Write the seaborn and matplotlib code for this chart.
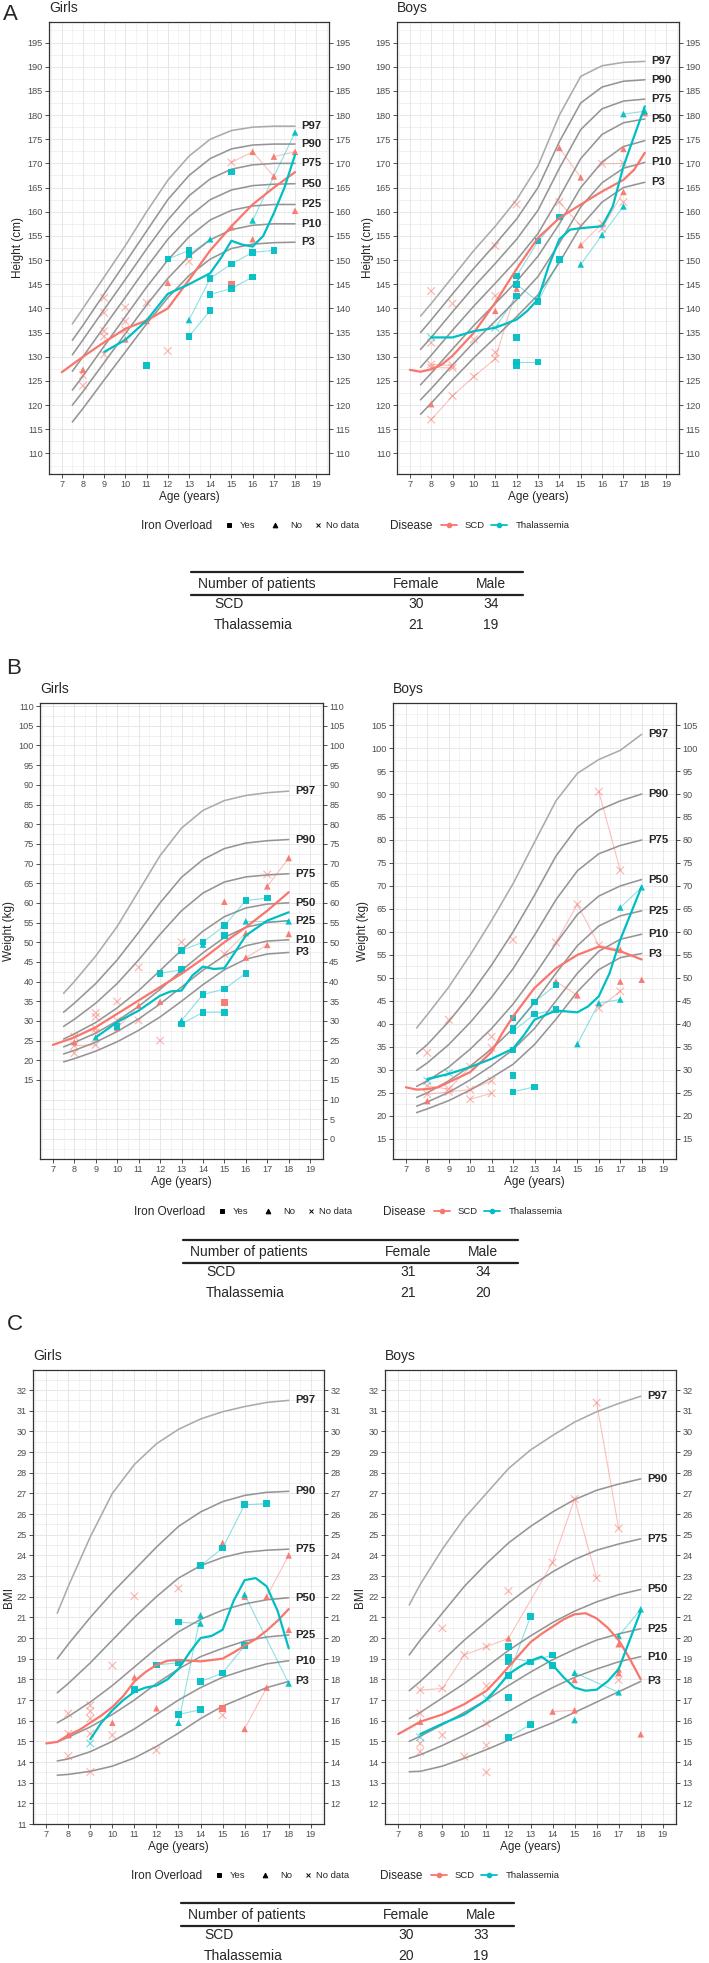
import numpy as np
import pandas as pd
import matplotlib
matplotlib.use("Agg")
import matplotlib.pyplot as plt
import seaborn as sns
from matplotlib.lines import Line2D

sns.set_theme(style="white")
plt.rcParams['font.family'] = ['Liberation Sans', 'DejaVu Sans']

W, H = 709, 1963
SCD_C = "#F8766D"
THAL_C = "#00BFC4"
PAL = {"SCD": SCD_C, "Thalassemia": THAL_C}

X_TICKS = list(range(7, 20))
AGES_PCT = [7.5, 8, 9, 10, 11, 12, 13, 14, 15, 16, 17, 18]
PCT_LABELS = ["P97", "P90", "P75", "P50", "P25", "P10", "P3"]
PCT_COLORS = ["#ABABAB", "#959595", "#959595", "#959595", "#959595", "#959595", "#959595"]

# ---------------- Percentile reference curves ----------------
girls_height_pct = [
    [136.8, 140.0, 146.5, 153.0, 160.0, 166.5, 171.5, 175.0, 176.8, 177.5, 177.7, 177.7],
    [133.4, 136.5, 143.0, 149.5, 156.0, 162.5, 167.5, 171.0, 173.0, 173.8, 174.0, 174.0],
    [130.4, 133.5, 139.8, 146.0, 152.3, 158.3, 163.3, 166.8, 168.8, 169.7, 170.0, 170.0],
    [127.0, 130.0, 136.2, 142.3, 148.5, 154.3, 159.0, 162.5, 164.5, 165.4, 165.7, 165.8],
    [123.1, 126.0, 132.2, 138.3, 144.4, 150.0, 154.8, 158.3, 160.3, 161.2, 161.5, 161.5],
    [120.0, 122.8, 128.8, 134.8, 140.7, 146.2, 150.8, 154.2, 156.3, 157.2, 157.5, 157.5],
    [116.5, 119.3, 125.2, 131.0, 136.8, 142.2, 146.8, 150.2, 152.4, 153.3, 153.6, 153.7],
]
boys_height_pct = [
    [138.4, 141.0, 146.5, 152.0, 157.0, 162.5, 169.5, 180.0, 188.0, 190.2, 190.9, 191.1],
    [135.0, 137.6, 143.0, 148.3, 153.3, 158.5, 165.0, 174.5, 182.5, 185.8, 187.0, 187.3],
    [131.5, 134.0, 139.3, 144.5, 149.3, 154.3, 160.3, 169.0, 177.0, 181.3, 182.9, 183.3],
    [127.8, 130.3, 135.5, 140.5, 145.2, 150.0, 155.5, 163.0, 171.0, 176.0, 178.4, 179.2],
    [124.2, 126.6, 131.6, 136.5, 141.0, 145.6, 150.8, 157.5, 165.0, 170.3, 173.5, 174.7],
    [121.1, 123.4, 128.3, 133.0, 137.4, 141.8, 146.6, 153.5, 161.0, 166.0, 169.0, 170.2],
    [118.1, 120.4, 125.2, 129.8, 134.0, 138.3, 142.8, 149.5, 157.0, 162.0, 165.0, 166.1],
]
girls_weight_pct = [
    [37.0, 40.0, 46.5, 54.0, 63.0, 72.0, 79.0, 83.5, 86.0, 87.3, 88.0, 88.4],
    [32.2, 34.5, 39.5, 45.5, 52.5, 60.0, 66.5, 71.0, 73.8, 75.2, 75.8, 76.1],
    [28.6, 30.4, 34.5, 39.5, 45.5, 52.0, 58.0, 62.5, 65.3, 66.6, 67.1, 67.4],
    [25.4, 26.7, 29.6, 33.3, 37.7, 42.8, 48.0, 52.8, 56.5, 58.7, 59.7, 60.0],
    [23.4, 24.5, 26.9, 30.0, 33.7, 38.0, 42.8, 47.3, 51.2, 53.8, 55.0, 55.5],
    [21.6, 22.5, 24.6, 27.3, 30.5, 34.3, 38.6, 42.9, 46.6, 49.1, 50.3, 50.6],
    [19.6, 20.4, 22.3, 24.7, 27.6, 31.0, 35.0, 39.2, 43.0, 45.7, 47.0, 47.4],
]
boys_weight_pct = [
    [39.1, 42.0, 48.0, 55.0, 62.5, 70.5, 79.5, 88.5, 94.5, 97.5, 99.5, 103.0],
    [33.5, 35.5, 40.5, 46.3, 52.8, 60.0, 68.0, 76.5, 82.8, 86.5, 88.5, 90.0],
    [29.9, 31.5, 35.5, 40.3, 45.8, 52.0, 59.3, 67.0, 73.3, 77.0, 78.8, 80.0],
    [26.4, 27.6, 30.6, 34.5, 39.0, 44.3, 50.6, 57.5, 63.8, 67.8, 70.0, 71.4],
    [24.0, 25.0, 27.6, 30.8, 34.5, 39.0, 44.6, 51.0, 57.0, 61.3, 63.5, 64.6],
    [22.1, 23.0, 25.1, 27.8, 30.9, 34.4, 39.0, 45.0, 51.0, 55.8, 58.4, 59.5],
    [20.7, 21.5, 23.3, 25.6, 28.3, 31.2, 35.5, 41.0, 47.0, 51.8, 54.4, 55.3],
]
girls_bmi_pct = [
    [21.2, 22.5, 24.9, 27.0, 28.4, 29.4, 30.1, 30.6, 30.95, 31.2, 31.4, 31.5],
    [19.0, 19.7, 21.0, 22.2, 23.3, 24.4, 25.4, 26.1, 26.6, 26.9, 27.05, 27.1],
    [17.35, 17.8, 18.8, 19.9, 21.0, 22.0, 22.9, 23.5, 23.9, 24.15, 24.25, 24.3],
    [15.9, 16.2, 16.9, 17.7, 18.6, 19.5, 20.3, 20.9, 21.35, 21.65, 21.85, 21.95],
    [14.97, 15.2, 15.7, 16.3, 17.0, 17.8, 18.5, 19.1, 19.5, 19.85, 20.05, 20.15],
    [14.05, 14.15, 14.5, 15.0, 15.6, 16.3, 17.0, 17.6, 18.1, 18.45, 18.75, 18.9],
    [13.36, 13.4, 13.55, 13.8, 14.2, 14.75, 15.4, 16.1, 16.7, 17.15, 17.6, 17.9],
]
boys_bmi_pct = [
    [21.6, 22.6, 24.3, 25.8, 27.0, 28.2, 29.1, 29.8, 30.45, 30.95, 31.35, 31.7],
    [19.18, 19.9, 21.2, 22.5, 23.6, 24.6, 25.4, 26.1, 26.7, 27.15, 27.45, 27.7],
    [17.45, 17.9, 18.9, 19.9, 20.8, 21.7, 22.5, 23.2, 23.8, 24.25, 24.55, 24.8],
    [16.1, 16.4, 17.1, 17.8, 18.6, 19.4, 20.1, 20.75, 21.3, 21.75, 22.1, 22.35],
    [15.0, 15.25, 15.8, 16.4, 17.0, 17.7, 18.35, 18.95, 19.45, 19.9, 20.2, 20.45],
    [14.18, 14.35, 14.8, 15.3, 15.85, 16.45, 17.05, 17.6, 18.1, 18.5, 18.85, 19.1],
    [13.53, 13.55, 13.8, 14.18, 14.6, 15.05, 15.47, 15.9, 16.4, 16.9, 17.4, 17.9],
]

# ---------------- Patient observations: (age, value, disease, iron overload, patient) ----------------
# disease: S = SCD, T = Thalassemia ; iron: Y = Yes, N = No, X = No data
girls_height_obs = [
    (8, 127.3, 'S', 'N', 1), (8, 126.2, 'S', 'X', 2), (8, 124.0, 'S', 'X', 3),
    (9, 142.2, 'S', 'X', 4), (9, 139.1, 'S', 'X', 5), (9, 135.3, 'S', 'X', 6), (9, 134.2, 'S', 'X', 7), (9, 130.5, 'S', 'X', 8),
    (10, 140.2, 'S', 'X', 9), (10, 137.3, 'S', 'X', 10), (10, 135.5, 'S', 'X', 11), (10, 133.6, 'S', 'N', 12),
    (11, 141.2, 'S', 'X', 13), (11, 137.4, 'S', 'N', 14),
    (12, 131.2, 'S', 'X', 15), (12, 145.3, 'S', 'N', 16), (13, 149.7, 'S', 'X', 17),
    (15, 170.2, 'S', 'X', 18), (16, 172.4, 'S', 'N', 18), (17, 167.3, 'S', 'N', 18),
    (15, 156.8, 'S', 'N', 19), (15, 145.0, 'S', 'Y', 20), (16, 154.3, 'S', 'N', 21),
    (17, 171.4, 'S', 'N', 22), (18, 172.4, 'S', 'N', 22), (18, 160.2, 'S', 'N', 23),
    (11, 128.2, 'T', 'Y', 30),
    (12, 150.2, 'T', 'Y', 31), (13, 152.0, 'T', 'Y', 31),
    (13, 151.2, 'T', 'Y', 32), (14, 154.3, 'T', 'N', 32),
    (13, 137.6, 'T', 'N', 33), (14, 146.2, 'T', 'Y', 33), (15, 149.2, 'T', 'Y', 33), (16, 151.6, 'T', 'Y', 33), (17, 152.0, 'T', 'Y', 33),
    (13, 134.2, 'T', 'Y', 34), (14, 139.6, 'T', 'Y', 34),
    (14, 142.9, 'T', 'Y', 35), (15, 144.1, 'T', 'Y', 35), (16, 146.5, 'T', 'Y', 35),
    (15, 168.2, 'T', 'Y', 36),
    (16, 158.2, 'T', 'N', 37), (18, 176.4, 'T', 'N', 37),
]
boys_height_obs = [
    (8, 143.6, 'S', 'X', 1), (8, 132.9, 'S', 'X', 2), (8, 128.4, 'S', 'X', 3), (8, 127.8, 'S', 'X', 4),
    (8, 120.2, 'S', 'N', 5), (8, 117.0, 'S', 'X', 6),
    (9, 141.0, 'S', 'X', 7), (9, 128.2, 'S', 'X', 3), (9, 127.7, 'S', 'X', 4), (9, 121.9, 'S', 'X', 6),
    (10, 133.6, 'S', 'X', 8), (10, 125.9, 'S', 'X', 6),
    (11, 152.9, 'S', 'X', 9), (11, 142.6, 'S', 'X', 10), (11, 139.5, 'S', 'N', 11), (11, 130.9, 'S', 'X', 12),
    (11, 129.6, 'S', 'X', 6), (12, 144.1, 'S', 'N', 6),
    (12, 161.5, 'S', 'X', 13),
    (14, 173.2, 'S', 'N', 14), (15, 167.1, 'S', 'N', 14),
    (14, 162.0, 'S', 'X', 15), (15, 157.1, 'S', 'X', 15),
    (15, 153.1, 'S', 'N', 17), (16, 157.6, 'S', 'X', 17),
    (16, 169.9, 'S', 'X', 18), (17, 170.0, 'S', 'X', 18),
    (16, 156.5, 'S', 'X', 19), (17, 164.1, 'S', 'N', 19),
    (17, 173.0, 'S', 'N', 20), (17, 162.0, 'S', 'X', 21), (18, 180.4, 'S', 'N', 22),
    (8, 134.0, 'T', 'X', 30),
    (11, 136.0, 'T', 'X', 31), (12, 142.6, 'T', 'Y', 31),
    (12, 146.7, 'T', 'Y', 32), (13, 153.9, 'T', 'Y', 32), (14, 158.9, 'T', 'Y', 32),
    (12, 145.0, 'T', 'Y', 33), (13, 141.4, 'T', 'Y', 33), (14, 150.1, 'T', 'Y', 33),
    (12, 134.0, 'T', 'Y', 34),
    (12, 128.9, 'T', 'Y', 35), (13, 128.9, 'T', 'Y', 35), (12, 128.2, 'T', 'Y', 36),
    (15, 149.1, 'T', 'N', 37), (16, 155.2, 'T', 'N', 37), (17, 161.1, 'T', 'N', 37),
    (17, 180.2, 'T', 'N', 38), (18, 180.8, 'T', 'N', 38),
]
girls_weight_obs = [
    (8, 24.6, 'S', 'N', 1), (8, 26.0, 'S', 'X', 2), (8, 23.7, 'S', 'X', 3), (8, 21.8, 'S', 'X', 4),
    (9, 32.0, 'S', 'X', 5), (9, 31.0, 'S', 'X', 6), (9, 28.0, 'S', 'X', 2), (9, 27.1, 'S', 'X', 7), (9, 23.9, 'S', 'X', 3),
    (10, 34.9, 'S', 'X', 8), (10, 30.1, 'S', 'X', 9), (10, 28.2, 'S', 'N', 10),
    (11, 43.6, 'S', 'X', 11), (11, 33.9, 'S', 'N', 10), (11, 30.1, 'S', 'X', 12),
    (12, 25.0, 'S', 'X', 13), (12, 34.9, 'S', 'N', 14), (13, 50.0, 'S', 'X', 15),
    (15, 60.3, 'S', 'N', 16), (15, 34.7, 'S', 'Y', 17),
    (15, 47.0, 'S', 'X', 18), (16, 52.3, 'S', 'N', 18),
    (16, 46.1, 'S', 'N', 19), (17, 49.3, 'S', 'N', 19),
    (17, 67.2, 'S', 'X', 20), (17, 64.2, 'S', 'N', 21), (18, 71.4, 'S', 'N', 21), (18, 52.1, 'S', 'N', 22),
    (9, 25.8, 'T', 'N', 30), (10, 28.6, 'T', 'Y', 31),
    (12, 42.1, 'T', 'Y', 32), (13, 43.0, 'T', 'Y', 32),
    (13, 47.9, 'T', 'Y', 33), (14, 50.0, 'T', 'Y', 33), (15, 54.2, 'T', 'Y', 33), (16, 60.6, 'T', 'Y', 33), (17, 61.2, 'T', 'Y', 33),
    (14, 49.4, 'T', 'N', 34),
    (13, 30.1, 'T', 'N', 35), (14, 36.7, 'T', 'Y', 35), (15, 38.1, 'T', 'Y', 35), (16, 42.1, 'T', 'Y', 35),
    (13, 29.2, 'T', 'Y', 36), (14, 32.2, 'T', 'Y', 36), (15, 32.2, 'T', 'Y', 36),
    (15, 51.7, 'T', 'Y', 38),
    (16, 55.3, 'T', 'N', 39), (18, 55.3, 'T', 'N', 39),
]
boys_weight_obs = [
    (8, 33.7, 'S', 'X', 1), (8, 26.5, 'S', 'X', 2), (8, 24.7, 'S', 'X', 3), (8, 23.2, 'S', 'N', 4),
    (9, 40.9, 'S', 'X', 5), (9, 25.8, 'S', 'X', 2), (9, 25.2, 'S', 'X', 3),
    (10, 30.7, 'S', 'X', 2), (10, 25.7, 'S', 'X', 3), (10, 23.6, 'S', 'X', 6),
    (11, 37.2, 'S', 'X', 7), (11, 34.8, 'S', 'X', 2), (11, 27.6, 'S', 'X', 3), (11, 24.9, 'S', 'X', 6),
    (12, 58.3, 'S', 'X', 8), (12, 41.3, 'S', 'N', 9),
    (14, 57.7, 'S', 'X', 10), (15, 66.0, 'S', 'X', 10), (16, 57.1, 'S', 'X', 10), (17, 56.1, 'S', 'N', 10),
    (14, 49.2, 'S', 'N', 11), (15, 46.2, 'S', 'N', 11),
    (16, 90.5, 'S', 'X', 12), (17, 73.4, 'S', 'X', 12),
    (16, 43.4, 'S', 'X', 13), (17, 47.1, 'S', 'X', 13),
    (17, 49.2, 'S', 'N', 14), (18, 49.6, 'S', 'N', 15),
    (8, 27.6, 'T', 'X', 30), (9, 29.3, 'T', 'X', 30),
    (12, 41.3, 'T', 'Y', 31),
    (12, 39.1, 'T', 'Y', 32), (13, 44.8, 'T', 'Y', 32), (14, 48.4, 'T', 'Y', 32),
    (12, 38.4, 'T', 'Y', 33), (13, 42.1, 'T', 'Y', 33), (14, 43.1, 'T', 'Y', 33),
    (12, 34.3, 'T', 'Y', 34), (12, 28.8, 'T', 'Y', 35),
    (12, 25.2, 'T', 'Y', 36), (13, 26.3, 'T', 'Y', 36),
    (15, 35.6, 'T', 'N', 37), (16, 44.5, 'T', 'N', 37), (17, 45.3, 'T', 'N', 37),
    (17, 65.3, 'T', 'N', 39), (18, 69.7, 'T', 'N', 39),
]
girls_bmi_obs = [
    (8, 16.34, 'S', 'X', 1), (8, 15.37, 'S', 'X', 2), (8, 15.3, 'S', 'N', 3), (8, 14.28, 'S', 'X', 4),
    (9, 16.74, 'S', 'X', 5), (9, 16.45, 'S', 'X', 6), (9, 16.1, 'S', 'X', 7), (9, 15.37, 'S', 'X', 8), (9, 13.52, 'S', 'X', 9),
    (10, 18.67, 'S', 'X', 10), (10, 15.9, 'S', 'N', 11), (10, 15.3, 'S', 'X', 12),
    (11, 22.02, 'S', 'X', 13), (11, 18.1, 'S', 'N', 14),
    (12, 16.6, 'S', 'N', 15), (12, 14.57, 'S', 'X', 16), (13, 22.4, 'S', 'X', 17),
    (15, 16.6, 'S', 'Y', 18), (15, 16.26, 'S', 'X', 19), (15, 24.6, 'S', 'N', 20),
    (16, 15.6, 'S', 'N', 21), (17, 17.6, 'S', 'N', 21),
    (16, 22.0, 'S', 'N', 22),
    (17, 22.0, 'S', 'N', 23), (18, 24.0, 'S', 'N', 23), (18, 20.4, 'S', 'N', 24),
    (9, 14.9, 'T', 'X', 30), (11, 17.5, 'T', 'Y', 31),
    (12, 18.7, 'T', 'Y', 32), (13, 18.8, 'T', 'Y', 32),
    (13, 20.77, 'T', 'Y', 33), (14, 20.7, 'T', 'N', 33),
    (13, 15.9, 'T', 'N', 34), (14, 21.1, 'T', 'N', 34),
    (13, 16.3, 'T', 'Y', 35), (14, 16.53, 'T', 'Y', 35),
    (14, 17.9, 'T', 'Y', 36), (15, 18.3, 'T', 'Y', 36), (16, 19.63, 'T', 'Y', 36),
    (14, 23.5, 'T', 'Y', 37), (15, 24.35, 'T', 'Y', 37), (16, 26.45, 'T', 'Y', 37), (17, 26.5, 'T', 'Y', 37),
    (16, 22.1, 'T', 'N', 38), (18, 17.8, 'T', 'N', 38),
]
boys_bmi_obs = [
    (8, 17.48, 'S', 'X', 1), (9, 17.56, 'S', 'X', 1), (10, 19.18, 'S', 'X', 1), (11, 19.58, 'S', 'X', 1),
    (12, 19.98, 'S', 'N', 1), (14, 23.65, 'S', 'X', 1), (15, 26.73, 'S', 'X', 1), (16, 22.9, 'S', 'X', 1),
    (8, 16.35, 'S', 'X', 2), (8, 15.95, 'S', 'N', 3), (8, 14.9, 'S', 'X', 4), (8, 14.5, 'S', 'X', 5),
    (9, 20.47, 'S', 'X', 6), (9, 15.3, 'S', 'X', 7), (10, 14.26, 'S', 'X', 8),
    (11, 17.68, 'S', 'X', 9), (11, 15.87, 'S', 'X', 10), (11, 14.8, 'S', 'X', 11), (11, 13.5, 'S', 'X', 12),
    (12, 22.27, 'S', 'X', 13),
    (14, 16.44, 'S', 'N', 14), (15, 16.5, 'S', 'N', 14), (15, 17.97, 'S', 'N', 15),
    (16, 31.39, 'S', 'X', 16), (17, 25.3, 'S', 'X', 16),
    (17, 19.7, 'S', 'N', 17), (17, 18.48, 'S', 'N', 18), (17, 18.3, 'S', 'N', 19), (17, 17.97, 'S', 'X', 20),
    (18, 15.34, 'S', 'N', 21),
    (8, 15.2, 'T', 'X', 30),
    (11, 17.08, 'T', 'X', 31), (12, 18.18, 'T', 'Y', 31), (13, 21.03, 'T', 'Y', 31),
    (12, 19.58, 'T', 'Y', 32),
    (12, 19.06, 'T', 'Y', 33), (13, 18.85, 'T', 'Y', 33), (14, 19.18, 'T', 'Y', 33),
    (12, 18.85, 'T', 'Y', 34), (12, 17.12, 'T', 'Y', 35),
    (12, 15.18, 'T', 'Y', 36), (13, 15.82, 'T', 'Y', 36),
    (14, 18.66, 'T', 'Y', 37),
    (15, 18.32, 'T', 'N', 38), (17, 17.37, 'T', 'N', 38),
    (15, 16.03, 'T', 'N', 39),
    (17, 20.1, 'T', 'N', 40), (18, 21.39, 'T', 'N', 40),
]

# ---------------- Smoothed trends per disease ----------------
girls_height_scd_age = [7, 8, 9, 10, 11, 12, 13, 14, 15, 16, 17, 18]
girls_height_scd_val = [126.8, 130.0, 133.0, 135.8, 137.5, 140.0, 145.9, 152.0, 157.0, 161.5, 165.0, 168.2]
girls_height_thal_age = [9, 10, 11, 12, 13, 14, 14.5, 15, 15.5, 16, 16.5, 17, 17.5, 18]
girls_height_thal_val = [131.0, 133.5, 137.5, 143.0, 145.0, 147.3, 150.4, 154.0, 153.2, 152.8, 155.0, 159.7, 165.0, 171.8]
boys_height_scd_age = [7, 7.5, 8, 8.5, 9, 10, 11, 12, 13, 14, 15, 16, 17, 17.5, 18]
boys_height_scd_val = [127.3, 126.9, 127.4, 128.4, 130.2, 135.0, 141.2, 148.2, 154.6, 158.7, 161.5, 164.2, 166.6, 168.7, 172.2]
boys_height_thal_age = [8, 9, 10, 11, 12, 12.5, 13, 13.5, 14, 14.5, 15, 16, 16.5, 17, 17.5, 18]
boys_height_thal_val = [134.0, 134.0, 135.3, 136.0, 137.7, 139.5, 141.9, 148.8, 154.3, 156.3, 156.6, 157.0, 161.1, 169.4, 175.6, 181.8]
girls_weight_scd_age = [7, 8, 9, 10, 11, 12, 13, 14, 15, 16, 17, 18]
girls_weight_scd_val = [23.9, 25.8, 28.4, 31.8, 35.2, 38.6, 42.0, 45.8, 50.0, 53.8, 58.0, 62.7]
girls_weight_thal_age = [9, 10, 11, 12, 12.5, 13, 13.5, 14, 14.5, 15, 15.5, 16, 17, 18]
girls_weight_thal_val = [25.8, 29.7, 32.6, 36.4, 37.5, 37.7, 41.5, 43.8, 43.2, 43.4, 47.5, 51.7, 55.5, 57.6]
boys_weight_scd_age = [7, 7.5, 8, 8.5, 9, 10, 11, 11.5, 12, 13, 14, 15, 16, 17, 18]
boys_weight_scd_val = [26.2, 25.7, 25.8, 26.2, 27.3, 29.5, 33.9, 38.0, 41.6, 47.8, 52.1, 55.0, 56.8, 55.8, 54.0]
boys_weight_thal_age = [8, 9, 10, 11, 12, 12.5, 13, 14, 15, 15.5, 16, 16.5, 17, 18]
boys_weight_thal_val = [28.0, 29.1, 30.6, 32.4, 34.6, 37.5, 40.9, 42.9, 42.5, 43.8, 46.0, 51.0, 58.3, 69.9]
girls_bmi_scd_age = [7, 7.5, 8, 8.5, 9, 9.5, 10, 10.5, 11, 11.5, 12, 12.5, 13, 14, 15, 15.5, 16, 16.5, 17, 17.5, 18]
girls_bmi_scd_val = [14.9, 14.97, 15.3, 15.55, 15.9, 16.25, 16.66, 17.2, 17.9, 18.35, 18.7, 18.9, 18.94, 18.87, 19.0, 19.3, 19.63, 19.95, 20.36, 20.84, 21.4]
girls_bmi_thal_age = [9, 9.5, 10, 10.5, 11, 11.5, 12, 12.5, 13, 13.5, 14, 14.5, 15, 15.5, 16, 16.5, 17, 17.5, 18]
girls_bmi_thal_val = [15.1, 15.9, 16.5, 17.0, 17.4, 17.6, 17.7, 18.0, 18.5, 19.3, 20.0, 20.1, 20.4, 21.8, 22.8, 22.9, 22.5, 21.3, 19.5]
boys_bmi_scd_age = [7, 8, 9, 10, 11, 11.5, 12, 12.5, 13, 13.5, 14, 14.5, 15, 15.5, 16, 16.5, 17, 17.5, 18]
boys_bmi_scd_val = [15.35, 15.95, 16.3, 16.8, 17.45, 18.0, 18.6, 19.2, 19.8, 20.2, 20.55, 20.9, 21.15, 21.2, 20.95, 20.5, 19.9, 19.0, 18.0]
boys_bmi_thal_age = [8, 9, 10, 11, 11.5, 12, 12.5, 13, 13.5, 14, 14.5, 15, 15.5, 16, 16.5, 17, 17.5, 18]
boys_bmi_thal_val = [15.35, 15.85, 16.3, 17.0, 17.6, 18.25, 18.6, 18.9, 19.1, 18.7, 18.1, 17.6, 17.45, 17.5, 17.9, 18.5, 19.9, 21.3]

# ---------------- Patient counts tables ----------------
table_rows = ["SCD", "Thalassemia"]
height_counts = [(30, 34), (21, 19)]
weight_counts = [(31, 34), (21, 20)]
bmi_counts = [(30, 33), (20, 19)]

DIS_NAME = {'S': 'SCD', 'T': 'Thalassemia'}

fig = plt.figure(figsize=(W / 100, H / 100), dpi=100)
fig.patch.set_facecolor('white')


def fx(x):
    return x / W


def fy(y):
    return 1 - y / H


def panel(box, pct, obs, scd, thal, ylim, grid_vals, lticks, rticks, ylab, ylab_x, title):
    x0, x1, y0, y1 = box
    ax = fig.add_axes([fx(x0), fy(y1), (x1 - x0) / W, (y1 - y0) / H])
    ax.set_xlim(6.4, 19.6)
    ax.set_ylim(*ylim)
    step = grid_vals[1] - grid_vals[0]
    for v in grid_vals:
        ax.axhline(v, color='#E3E3E3', lw=0.6, zorder=0)
        ax.axhline(v + step / 2, color='#EFEFEF', lw=0.5, zorder=0)
        ax.axhline(v - step / 2, color='#EFEFEF', lw=0.5, zorder=0)
    for v in X_TICKS:
        ax.axvline(v, color='#E3E3E3', lw=0.6, zorder=0)
        ax.axvline(v - 0.5, color='#EFEFEF', lw=0.5, zorder=0)
    ax.axvline(19.5, color='#EFEFEF', lw=0.5, zorder=0)

    for vals, lab, col in zip(pct, PCT_LABELS, PCT_COLORS):
        sns.lineplot(x=AGES_PCT, y=vals, ax=ax, color=col, lw=1.15, zorder=2)
        ax.text(18.3, vals[-1], lab, fontsize=8.2, fontweight='bold', va='center', ha='left', zorder=6)

    df = pd.DataFrame(obs, columns=['age', 'val', 'dis', 'iron', 'pid'])
    df['dis'] = df['dis'].map(DIS_NAME)
    sns.lineplot(data=df, x='age', y='val', hue='dis', units='pid', estimator=None,
                 palette=PAL, lw=0.8, alpha=0.45, legend=False, ax=ax, zorder=3, sort=True)
    filled = df[df['iron'] != 'X']
    sns.scatterplot(data=filled, x='age', y='val', hue='dis', style='iron',
                    markers={'Y': 's', 'N': '^'}, palette=PAL, s=22, linewidth=0,
                    alpha=0.95, legend=False, ax=ax, zorder=4)
    cross = df[df['iron'] == 'X']
    sns.scatterplot(data=cross, x='age', y='val', hue='dis', marker='x', palette=PAL,
                    s=30, linewidth=0.8, alpha=0.55, legend=False, ax=ax, zorder=4)

    sns.lineplot(x=scd[0], y=scd[1], color=SCD_C, lw=1.6, ax=ax, zorder=5)
    sns.lineplot(x=thal[0], y=thal[1], color=THAL_C, lw=1.6, ax=ax, zorder=5)

    ax.set_xlabel('')
    ax.set_ylabel('')
    ax.set_xticks(X_TICKS)
    ax.set_yticks(lticks)
    ax.tick_params(axis='both', direction='out', length=3, width=0.6, color='#333333',
                   labelcolor='#4D4D4D', labelsize=6.6, pad=1.5, left=True, bottom=True)
    for s in ax.spines.values():
        s.set_color('#333333')
        s.set_linewidth(0.9)
    ax2 = ax.twinx()
    ax2.set_ylim(*ylim)
    ax2.set_yticks(rticks)
    ax2.tick_params(axis='y', direction='out', length=3, width=0.6, color='#333333',
                    labelcolor='#4D4D4D', labelsize=6.6, pad=1.5, right=True)
    for s in ax2.spines.values():
        s.set_visible(False)
    ax.set_xlim(6.4, 19.6)

    fig.text(fx(x0), fy(y0 - 14), title, fontsize=10, va='center', ha='left')
    fig.text(fx(ylab_x), fy((y0 + y1) / 2), ylab, fontsize=8.5, rotation=90, va='center', ha='center')
    fig.text(fx((x0 + x1) / 2), fy(y1 + 23), 'Age (years)', fontsize=8.5, va='center', ha='center')
    return ax


def legend_row(y, dx):
    fig.text(fx(141 + dx), fy(y), 'Iron Overload', fontsize=8.5, va='center', ha='left')
    items = [(229, 's', 'Yes', 240), (275, '^', 'No', 290), (318, 'x', 'No data', 326)]
    for mx, mk, lab, tx in items:
        fig.add_artist(Line2D([fx(mx + dx)], [fy(y - 1)], marker=mk, color='black', markersize=3.4,
                              markeredgewidth=0.7, linestyle='none', transform=fig.transFigure))
        fig.text(fx(tx + dx), fy(y), lab, fontsize=6.8, va='center', ha='left')
    fig.text(fx(390 + dx), fy(y), 'Disease', fontsize=8.5, va='center', ha='left')
    for cx, col, lab, tx in [(449, SCD_C, 'SCD', 465), (499, THAL_C, 'Thalassemia', 516)]:
        fig.add_artist(Line2D([fx(cx - 8 + dx), fx(cx + 8 + dx)], [fy(y - 1)] * 2, color=col, lw=1.3,
                              transform=fig.transFigure))
        fig.add_artist(Line2D([fx(cx + dx)], [fy(y - 1)], marker='o', color=col, markersize=3,
                              linestyle='none', transform=fig.transFigure))
        fig.text(fx(tx + dx), fy(y), lab, fontsize=6.8, va='center', ha='left')


def table(left, right, top, counts):
    fig.add_artist(Line2D([fx(left), fx(right)], [fy(top)] * 2, color='#222222', lw=1.6,
                          transform=fig.transFigure))
    fig.add_artist(Line2D([fx(left), fx(right)], [fy(top + 23)] * 2, color='#222222', lw=1.6,
                          transform=fig.transFigure))
    fig.text(fx(left + 7), fy(top + 12), 'Number of patients', fontsize=10, va='center', ha='left')
    fig.text(fx(left + 225), fy(top + 12), 'Female', fontsize=10, va='center', ha='center')
    fig.text(fx(left + 300), fy(top + 12), 'Male', fontsize=10, va='center', ha='center')
    for i, (name, (f, m)) in enumerate(zip(table_rows, counts)):
        yy = top + 32 + i * 21
        fig.text(fx(left + 23), fy(yy), name, fontsize=10, va='center', ha='left')
        fig.text(fx(left + 225), fy(yy), str(f), fontsize=10, va='center', ha='center')
        fig.text(fx(left + 300), fy(yy), str(m), fontsize=10, va='center', ha='center')


# ---------------- Panel A : Height ----------------
h_grid = list(range(110, 200, 5))
h_ticks = list(range(110, 200, 5))
panel((49, 329, 22, 474), girls_height_pct, girls_height_obs,
      (girls_height_scd_age, girls_height_scd_val), (girls_height_thal_age, girls_height_thal_val),
      (105.75, 199.25), h_grid, h_ticks, h_ticks, 'Height (cm)', 18, 'Girls')
panel((397, 679, 22, 474), boys_height_pct, boys_height_obs,
      (boys_height_scd_age, boys_height_scd_val), (boys_height_thal_age, boys_height_thal_val),
      (105.75, 199.25), h_grid, h_ticks, h_ticks, 'Height (cm)', 368, 'Boys')
fig.text(fx(10), fy(14), 'A', fontsize=16, va='center', ha='center')
legend_row(526, 0)
table(191, 523, 572, height_counts)

# ---------------- Panel B : Weight ----------------
panel((40, 323, 703, 1159), girls_weight_pct, girls_weight_obs,
      (girls_weight_scd_age, girls_weight_scd_val), (girls_weight_thal_age, girls_weight_thal_val),
      (-5.1, 110.8), list(range(0, 115, 5)), list(range(15, 115, 5)), list(range(0, 115, 5)),
      'Weight (kg)', 9, 'Girls')
panel((393, 676, 703, 1159), boys_weight_pct, boys_weight_obs,
      (boys_weight_scd_age, boys_weight_scd_val), (boys_weight_thal_age, boys_weight_thal_val),
      (10.6, 109.8), list(range(15, 110, 5)), list(range(15, 110, 5)), list(range(15, 110, 5)),
      'Weight (kg)', 363, 'Boys')
fig.text(fx(14), fy(668), 'B', fontsize=16, va='center', ha='center')
legend_row(1212, -7)
table(183, 518, 1240, weight_counts)

# ---------------- Panel C : BMI ----------------
panel((33, 324, 1370, 1824), girls_bmi_pct, girls_bmi_obs,
      (girls_bmi_scd_age, girls_bmi_scd_val), (girls_bmi_thal_age, girls_bmi_thal_val),
      (11.0, 32.97), list(range(11, 34)), list(range(11, 33)), list(range(12, 33)),
      'BMI', 9, 'Girls')
panel((385, 676, 1370, 1824), boys_bmi_pct, boys_bmi_obs,
      (boys_bmi_scd_age, boys_bmi_scd_val), (boys_bmi_thal_age, boys_bmi_thal_val),
      (11.0, 32.97), list(range(11, 34)), list(range(12, 33)), list(range(12, 33)),
      'BMI', 360, 'Boys')
fig.text(fx(15), fy(1325), 'C', fontsize=16, va='center', ha='center')
legend_row(1876, -10)
table(181, 514, 1903, bmi_counts)

fig.savefig('out.png', dpi=100, facecolor='white')
